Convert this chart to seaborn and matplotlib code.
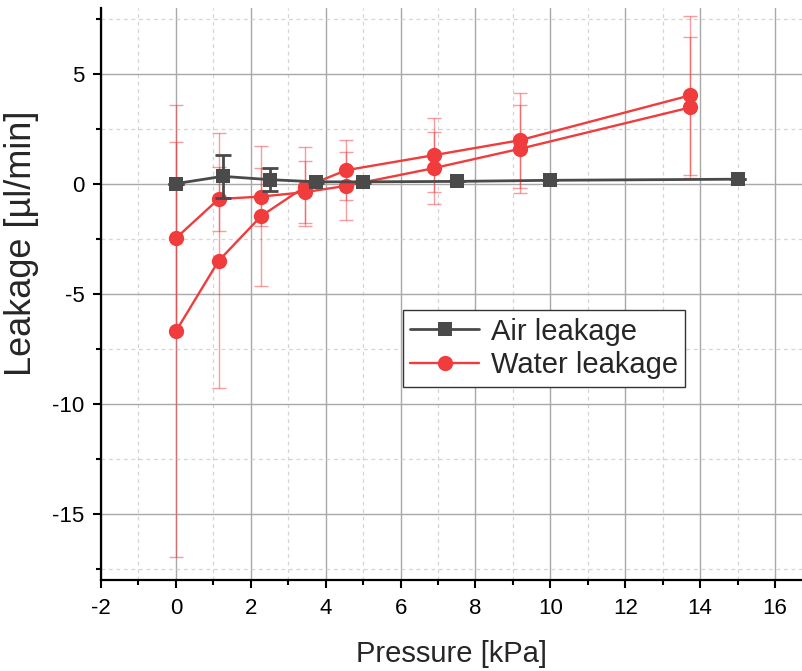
import numpy as np
import pandas as pd
import matplotlib
matplotlib.use("Agg")
import matplotlib.pyplot as plt
from matplotlib.ticker import MultipleLocator
import seaborn as sns

# Air leakage measurements
air_p = [0.0, 1.25, 2.5, 3.75, 5.0, 7.5, 10.0, 15.0]
air_leak = [0.02, 0.35, 0.2, 0.1, 0.1, 0.12, 0.17, 0.22]
air_err = [0.0, 0.97, 0.53, 0.05, 0.05, 0.0, 0.0, 0.0]

# Water leakage measurements (two runs)
water_p = [0.0, 1.14, 2.28, 3.44, 4.55, 6.88, 9.18, 13.73]
water_leak_a = [-2.46, -0.68, -0.57, -0.37, -0.08, 0.72, 1.6, 3.48]
water_err_a = [4.36, 1.44, 1.32, 1.41, 1.54, 1.65, 2.01, 3.2]
water_leak_b = [-6.69, -3.49, -1.45, -0.13, 0.63, 1.31, 1.99, 4.03]
water_err_b = [10.27, 5.79, 3.18, 1.8, 1.36, 1.67, 2.17, 3.63]

AIR = "#4a4a4a"
WATER = "#f03c3c"

sns.set_style("white")
plt.rcParams["font.family"] = ["Liberation Sans", "DejaVu Sans"]
plt.rcParams["axes.unicode_minus"] = False

fig = plt.figure(figsize=(8.02, 6.71), dpi=100)
ax = fig.add_axes([0.126, 0.1356, 0.874, 0.8524])

water_runs = [(water_leak_a, water_err_a), (water_leak_b, water_err_b)]
for i, (leak, err) in enumerate(water_runs):
    ax.errorbar(water_p, leak, yerr=err, fmt="none", ecolor=WATER, alpha=0.5,
                elinewidth=1.0, capsize=5, capthick=1.0, zorder=2)
    df = pd.DataFrame({"p": water_p, "leak": leak})
    sns.lineplot(data=df, x="p", y="leak", ax=ax, color=WATER, marker="o",
                 markersize=11, markeredgewidth=0, linewidth=1.7,
                 estimator=None, sort=False,
                 label="Water leakage" if i == 0 else None, zorder=3)

ax.errorbar(air_p, air_leak, yerr=air_err, fmt="none", ecolor=AIR,
            elinewidth=2.0, capsize=6, capthick=2.0, zorder=4)
df_air = pd.DataFrame({"p": air_p, "leak": air_leak})
sns.lineplot(data=df_air, x="p", y="leak", ax=ax, color=AIR, marker="s",
             markersize=9.5, markeredgewidth=0, linewidth=2.0,
             estimator=None, sort=False, label="Air leakage", zorder=5)

ax.set_xlim(-2, 16.72)
ax.set_ylim(-18, 8)
ax.xaxis.set_major_locator(MultipleLocator(2))
ax.xaxis.set_minor_locator(MultipleLocator(1))
ax.yaxis.set_major_locator(MultipleLocator(5))
ax.yaxis.set_minor_locator(MultipleLocator(2.5))

ax.grid(which="major", color="#a8a8a8", linewidth=1.0, linestyle="-")
ax.grid(which="minor", color="#d4d4d4", linewidth=0.9, linestyle=(0, (3, 3)))
ax.set_axisbelow(True)

for side in ["top", "right"]:
    ax.spines[side].set_visible(False)
for side in ["left", "bottom"]:
    ax.spines[side].set_color("black")
    ax.spines[side].set_linewidth(1.6)

ax.tick_params(which="major", direction="out", length=6, width=1.5,
               labelsize=16, colors="black")
ax.tick_params(which="minor", direction="out", length=3.5, width=1.5,
               colors="black")
ax.tick_params(axis="x", which="major", pad=7)
ax.tick_params(axis="y", which="major", pad=6)
ax.tick_params(left=True, bottom=True, which="both")

ax.set_xlabel("Pressure [kPa]", fontsize=21, labelpad=15)
ax.set_ylabel("Leakage [µl/min]", fontsize=26)
ax.yaxis.set_label_coords(-0.088, 0.589)

handles, labels = ax.get_legend_handles_labels()
order = [labels.index("Air leakage"), labels.index("Water leakage")]
leg = ax.legend([handles[k] for k in order], [labels[k] for k in order],
                loc="lower left", bbox_to_anchor=(0.431, 0.338),
                fontsize=21, frameon=True, fancybox=False, framealpha=1,
                edgecolor="#333333", handlelength=2.35, handletextpad=0.4,
                borderpad=0.25, labelspacing=0.2, borderaxespad=0)
leg.get_frame().set_linewidth(1.0)

fig.savefig("out.png", dpi=100)
